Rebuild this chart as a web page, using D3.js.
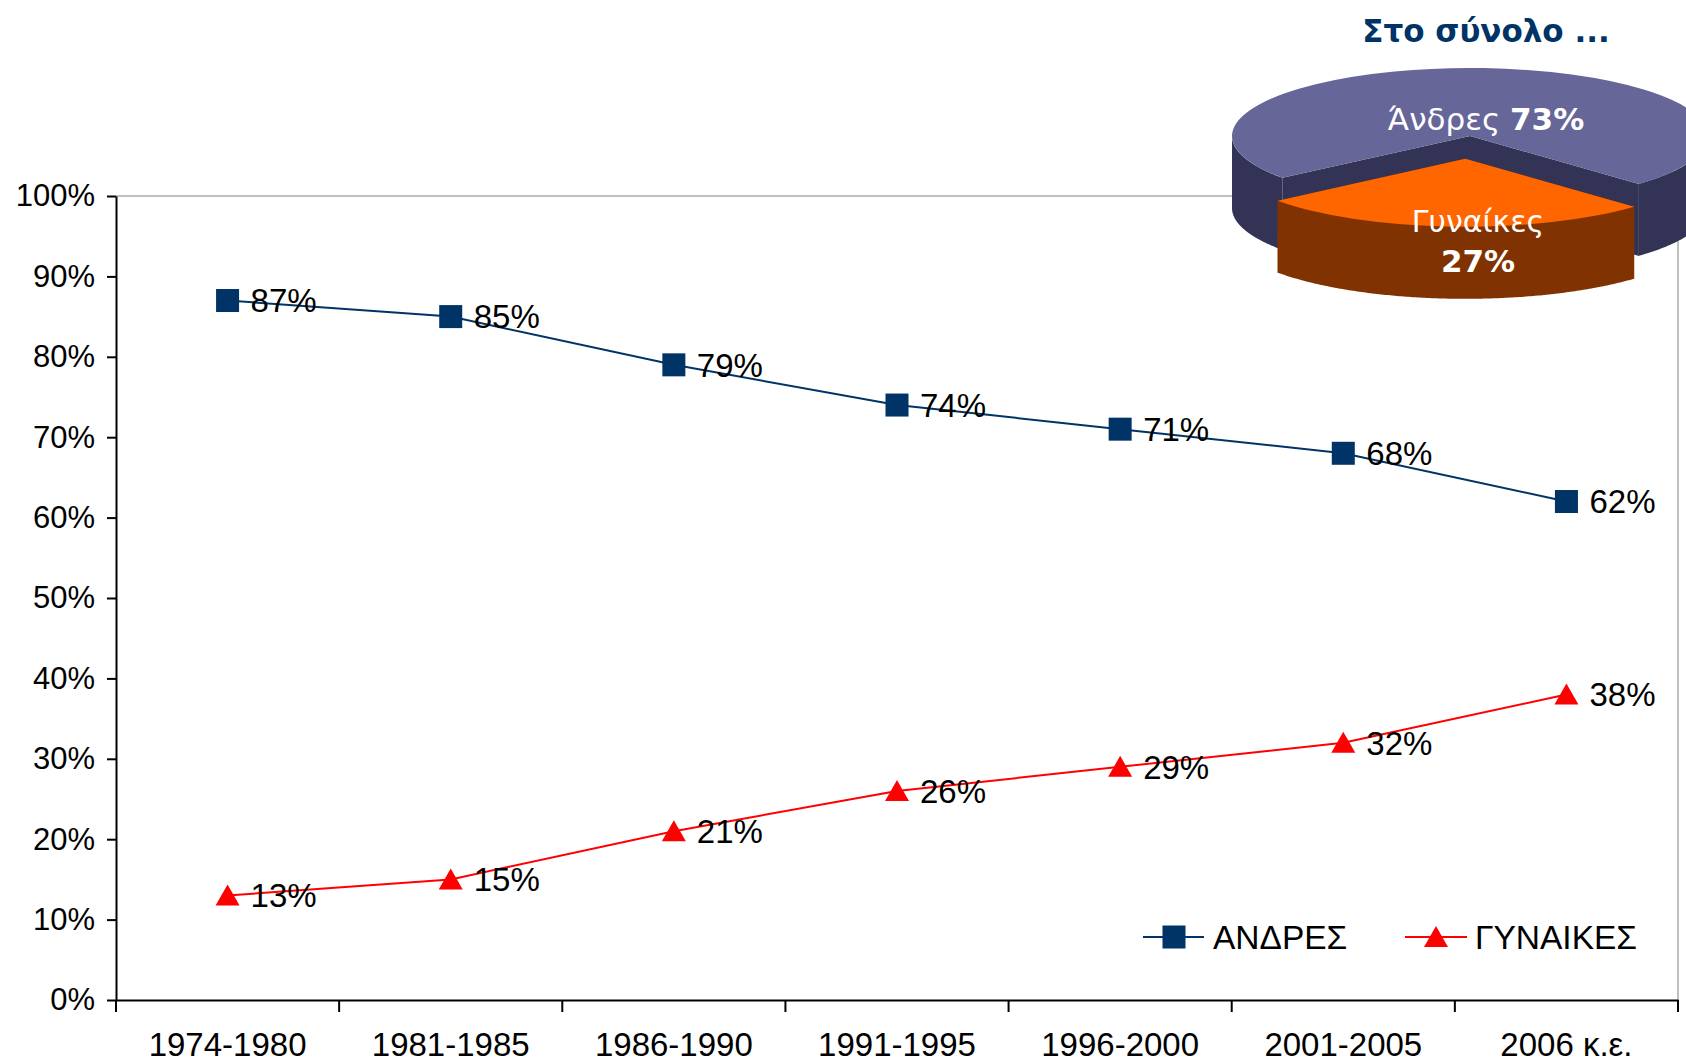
<!DOCTYPE html>
<html>
<head>
<meta charset="utf-8">
<script src="https://cdn.jsdelivr.net/npm/d3@7"></script>
<style>
  body { margin: 0; background: #fff; }
  svg { display: block; }
</style>
</head>
<body>
<div id="chart"></div>
<script>
// data
var categories = ["1974-1980", "1981-1985", "1986-1990", "1991-1995", "1996-2000", "2001-2005", "2006 κ.ε."];
var men   = [87, 85, 79, 74, 71, 68, 62];
var women = [13, 15, 21, 26, 29, 32, 38];
var yTicks = [0, 10, 20, 30, 40, 50, 60, 70, 80, 90, 100];
var legendLabels = ["ΑΝΔΡΕΣ", "ΓΥΝΑΙΚΕΣ"];
var pieTitle = "Στο σύνολο ...";
var pieLabels = ["Άνδρες", "Γυναίκες"];
var pieValues = [73, 27];

var chart_width  = 1686;
var chart_height = 1064;
var menColor = "#003366";
var womenColor = "#ff0000";
var font = "'Liberation Sans', Arial, sans-serif";

var svg = d3.select("#chart")
    .append("svg")
    .attr("width", chart_width)
    .attr("height", chart_height);

var x = d3.scaleBand().domain(categories).range([116, 1678]);
var y = d3.scaleLinear().domain([0, 100]).range([1000, 196]);
function cx(d, i) { return x(categories[i]) + x.bandwidth() / 2; }

// plot frame (top + right light grey)
svg.append("line")
    .attr("x1", x.range()[0]).attr("x2", x.range()[1])
    .attr("y1", y(100)).attr("y2", y(100))
    .attr("stroke", "#c0c0c0").attr("stroke-width", 2);
svg.append("line")
    .attr("x1", x.range()[1]).attr("x2", x.range()[1])
    .attr("y1", y(100)).attr("y2", y(0))
    .attr("stroke", "#c0c0c0").attr("stroke-width", 2);

// y axis
var yAxis = svg.append("g")
    .attr("transform", "translate(" + x.range()[0] + ",0)")
    .call(d3.axisLeft(y).tickValues(yTicks).tickFormat(function(d){ return d + "%"; })
        .tickSize(9).tickSizeOuter(0).tickPadding(12));
yAxis.selectAll("text").style("font-family", font).style("font-size", "31px").attr("fill", "#000");
yAxis.selectAll("line, path").attr("stroke", "#000").attr("stroke-width", 2);

// x axis (labels at centers, ticks at band edges)
var xAxis = svg.append("g")
    .attr("transform", "translate(0," + y(0) + ")")
    .call(d3.axisBottom(x).tickSize(0).tickSizeOuter(0).tickPadding(33));
xAxis.selectAll("text").style("font-family", font).style("font-size", "33px").attr("fill", "#000");
xAxis.select("path").attr("stroke", "#000").attr("stroke-width", 2);
var edges = categories.map(function(c){ return x(c); }).concat([x.range()[1]]);
xAxis.selectAll(".edge")
    .data(edges)
    .enter()
    .append("line")
    .attr("x1", function(d){ return d; }).attr("x2", function(d){ return d; })
    .attr("y1", 0).attr("y2", 12)
    .attr("stroke", "#000").attr("stroke-width", 2);

// lines
var line = d3.line()
    .x(function(d, i){ return cx(d, i); })
    .y(function(d){ return y(d); });

svg.append("path").datum(men)
    .attr("d", line).attr("fill", "none")
    .attr("stroke", menColor).attr("stroke-width", 2);
svg.append("path").datum(women)
    .attr("d", line).attr("fill", "none")
    .attr("stroke", womenColor).attr("stroke-width", 2);

var tri = "M0,-11L12,10L-12,10Z";

svg.selectAll(".mMark")
    .data(men)
    .enter()
    .append("rect")
    .attr("x", function(d, i){ return cx(d, i) - 11.5; })
    .attr("y", function(d){ return y(d) - 11.5; })
    .attr("width", 23).attr("height", 23)
    .attr("fill", menColor);

svg.selectAll(".wMark")
    .data(women)
    .enter()
    .append("path")
    .attr("d", tri)
    .attr("transform", function(d, i){ return "translate(" + cx(d, i) + "," + y(d) + ")"; })
    .attr("fill", womenColor);

function labels(data){
    svg.append("g").selectAll("text")
        .data(data)
        .enter()
        .append("text")
        .attr("x", function(d, i){ return cx(d, i) + 23; })
        .attr("y", function(d){ return y(d); })
        .attr("dy", "0.36em")
        .style("font-family", font).style("font-size", "33px")
        .text(function(d){ return d + "%"; });
}
labels(men);
labels(women);

// legend
var legend = svg.append("g").attr("transform", "translate(0,937)");
legend.append("line").attr("x1", 1143).attr("x2", 1204).attr("stroke", menColor).attr("stroke-width", 2);
legend.append("rect").attr("x", 1174 - 11.5).attr("y", -11.5).attr("width", 23).attr("height", 23).attr("fill", menColor);
legend.append("text").attr("x", 1213).attr("dy", "0.36em")
    .style("font-family", font).style("font-size", "33.5px").text(legendLabels[0]);
legend.append("line").attr("x1", 1405).attr("x2", 1467).attr("stroke", womenColor).attr("stroke-width", 2);
legend.append("path").attr("d", tri).attr("transform", "translate(1436,0)").attr("fill", womenColor);
legend.append("text").attr("x", 1475).attr("dy", "0.36em")
    .style("font-family", font).style("font-size", "33.5px").text(legendLabels[1]);

// 3D pie
var pcx = 1470, pcy = 136, rx = 238, ry = 68, depth = 72, k = ry / rx;
var topColors  = ["#666699", "#ff6600"];
var sideColors = ["#333355", "#803300"];
var explode = [0, 80];

var start = -128 * Math.PI / 180;
var pie = d3.pie().sort(null).startAngle(start).endAngle(start + 2 * Math.PI);
var arcs = pie(pieValues);

function pt(a, r){ return [r * Math.sin(a), -r * Math.cos(a) * k]; }

var arcTop = d3.arc().innerRadius(0).outerRadius(rx);

var pieG = svg.append("g").attr("transform", "translate(" + pcx + "," + pcy + ")");

arcs.forEach(function(a, i){
    var mid = (a.startAngle + a.endAngle) / 2;
    var off = pt(mid, explode[i]);
    var g = pieG.append("g").attr("transform", "translate(" + off[0] + "," + off[1] + ")");

    // radial cut faces
    [a.startAngle, a.endAngle].forEach(function(ang){
        var e = pt(ang, rx);
        g.append("path")
            .attr("d", "M0,0L" + e[0] + "," + e[1] + "L" + e[0] + "," + (e[1] + depth) + "L0," + depth + "Z")
            .attr("fill", sideColors[i]);
    });

    // outer walls, front half only
    for (var n = -1; n <= 1; n++){
        var s = Math.max(a.startAngle, Math.PI / 2 + n * 2 * Math.PI);
        var e = Math.min(a.endAngle, 3 * Math.PI / 2 + n * 2 * Math.PI);
        if (e <= s) continue;
        var angs = d3.range(s, e, 0.01).concat([e]);
        var topPts = angs.map(function(t){ return pt(t, rx); });
        var botPts = topPts.map(function(p){ return [p[0], p[1] + depth]; }).reverse();
        g.append("path")
            .attr("d", d3.line()(topPts.concat(botPts)) + "Z")
            .attr("fill", sideColors[i]);
    }

    g.append("path")
        .attr("d", arcTop(a))
        .attr("transform", "scale(1," + k + ")")
        .attr("fill", topColors[i]);
});

var pieFont = "'DejaVu Sans', Verdana, sans-serif";
svg.append("text")
    .attr("x", 1486).attr("y", 42)
    .attr("text-anchor", "middle")
    .style("font-family", pieFont).style("font-size", "31px").style("font-weight", "bold")
    .attr("fill", "#003366")
    .text(pieTitle);

var mLab = svg.append("text")
    .attr("x", 1486).attr("y", 130)
    .attr("text-anchor", "middle")
    .style("font-family", pieFont).style("font-size", "31px")
    .attr("fill", "#fff");
mLab.append("tspan").text(pieLabels[0] + " ");
mLab.append("tspan").style("font-weight", "bold").text(pieValues[0] + "%");

svg.append("text")
    .attr("x", 1478).attr("y", 232)
    .attr("text-anchor", "middle")
    .style("font-family", pieFont).style("font-size", "30px")
    .attr("fill", "#fff")
    .text(pieLabels[1]);
svg.append("text")
    .attr("x", 1478).attr("y", 272)
    .attr("text-anchor", "middle")
    .style("font-family", pieFont).style("font-size", "31px").style("font-weight", "bold")
    .attr("fill", "#fff")
    .text(pieValues[1] + "%");
</script>
</body>
</html>
